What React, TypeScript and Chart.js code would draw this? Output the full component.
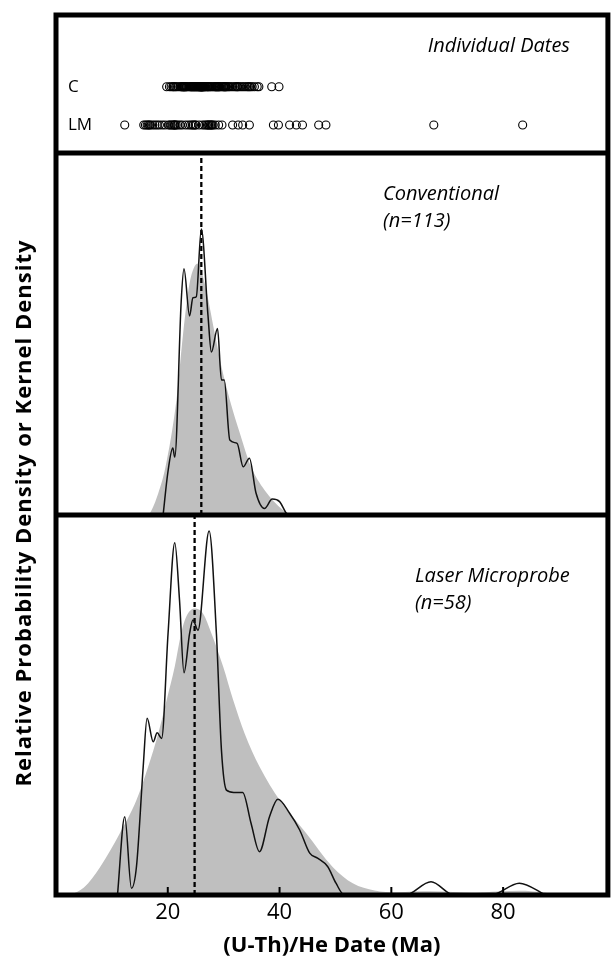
import React, { useEffect, useRef } from 'react';
import { Chart, registerables } from 'chart.js';

Chart.register(...registerables);

const FONT = "'Open Sans', sans-serif";

const X_MIN = 0;
const X_MAX = 98.75;
const X_TICKS = [20, 40, 60, 80];
const ROW_LABELS = ['LM', 'C'];

// Individual dates (Ma)
const C_DATES = [
  19.8, 20.3, 20.6, 20.9, 21.0, 21.2, 21.4, 21.6, 21.9, 22.2, 22.4, 22.5, 22.6, 22.7, 22.8, 22.9, 22.9,
  23.0, 23.1, 23.2, 23.3, 23.4, 23.6, 23.8, 24.0, 24.1, 24.2, 24.3, 24.4, 24.5, 24.6, 24.7, 24.8, 24.9,
  25.0, 25.1, 25.2, 25.3, 25.4, 25.5, 25.6, 25.6, 25.7, 25.8, 25.8, 25.9, 25.9, 26.0, 26.0, 26.0, 26.1,
  26.1, 26.2, 26.2, 26.3, 26.3, 26.4, 26.5, 26.6, 26.7, 26.8, 27.0, 27.1, 27.2, 27.3, 27.5, 27.6, 27.8,
  28.0, 28.2, 28.4, 28.5, 28.6, 28.7, 28.8, 28.9, 29.0, 29.1, 29.2, 29.3, 29.5, 29.7, 29.9, 30.0, 30.1,
  30.2, 30.3, 30.4, 30.5, 30.7, 30.9, 31.1, 31.4, 31.7, 32.0, 32.2, 32.4, 32.5, 32.7, 33.0, 33.3, 33.6,
  33.9, 34.2, 34.4, 34.6, 34.8, 35.1, 35.5, 36.0, 36.3, 38.6, 39.9,
];
const LM_DATES = [
  12.3,
  15.7, 16.0, 16.3, 16.5, 16.7, 16.9, 17.3, 17.7, 18.1, 18.5, 19.0,
  19.5, 20.1, 20.4, 20.6, 20.9, 21.1, 21.2, 21.3, 21.5, 21.8, 22.2, 22.6,
  23.2, 23.7, 24.1, 24.4, 24.6, 24.9, 25.0, 25.6,
  26.2, 26.6, 26.9, 27.1, 27.3, 27.4, 27.6, 27.8, 27.9, 28.1, 28.5, 29.1, 29.7,
  31.6, 32.6, 33.4, 34.6,
  38.9, 39.8,
  41.8, 43.0, 44.1,
  47.0, 48.3,
  67.6, 83.5,
];

// Conventional: kernel density (grey) and probability density (line)
const CONV_KDE_X = [16.2, 16.8, 18.3, 19.6, 21.55, 22.75, 23.9, 25.4, 26.6, 28.4, 29.6, 31.1, 32.9, 34.9, 37.3, 40.6, 42.4];
const CONV_KDE_Y = [0, 0.005, 0.06, 0.133, 0.318, 0.502, 0.64, 0.695, 0.64, 0.502, 0.41, 0.318, 0.226, 0.133, 0.069, 0.014, 0];
const CONV_PDP_X = [19.2, 20.0, 20.9, 21.25, 22.4, 22.9, 23.9, 24.5, 25.1, 26.0, 27.2, 27.8, 28.9, 29.6, 30.1, 31.1, 32.4, 33.5, 34.6, 35.8, 37.3, 38.7, 40.0, 41.2, 41.6];
const CONV_PDP_Y = [0.005, 0.116, 0.185, 0.16, 0.59, 0.68, 0.55, 0.6, 0.603, 0.79, 0.55, 0.45, 0.515, 0.373, 0.373, 0.207, 0.198, 0.133, 0.157, 0.06, 0.018, 0.044, 0.037, 0.005, 0];
const CONV_MEDIAN = 26.0;

// Laser microprobe
const LM_KDE_X = [2.5, 5.0, 7.9, 11.4, 14.4, 16.5, 18.3, 19.8, 21.25, 22.4, 23.3, 24.8, 26.3, 27.8, 29.9, 31.7, 33.75, 36.4, 40.0, 44.8, 49.5, 53.1, 57.0, 61, 64, 67, 71, 75, 79, 83, 87, 90];
const LM_KDE_Y = [0, 0.02, 0.074, 0.162, 0.25, 0.338, 0.425, 0.513, 0.601, 0.689, 0.732, 0.754, 0.741, 0.689, 0.601, 0.513, 0.425, 0.338, 0.25, 0.162, 0.074, 0.031, 0.012, 0.007, 0.009, 0.01, 0.008, 0.006, 0.009, 0.011, 0.007, 0];
const LM_PDP_X = [11.0, 12.3, 13.5, 14.4, 15.6, 16.3, 17.4, 18.1, 18.9, 20.05, 21.25, 22.1, 22.9, 23.9, 24.5, 25.4, 27.4, 28.7, 29.6, 30.5, 31.8, 33.4, 34.9, 36.4, 38.2, 39.7, 41.8, 43.6, 45.4, 46.8, 48.6, 50.1, 51.6, 62.5, 67.1, 71.2, 77.8, 82.9, 87.6];
const LM_PDP_Y = [0, 0.206, 0.018, 0.075, 0.337, 0.465, 0.403, 0.427, 0.412, 0.688, 0.927, 0.776, 0.585, 0.688, 0.724, 0.697, 0.958, 0.688, 0.382, 0.276, 0.27, 0.27, 0.189, 0.114, 0.206, 0.252, 0.215, 0.171, 0.11, 0.097, 0.075, 0.031, 0, 0, 0.035, 0, 0, 0.031, 0];
const LM_MEDIAN = 24.8;

const pts = (xs: number[], ys: number[]) => xs.map((x, i) => ({ x, y: ys[i] }));
const row = (dates: number[], label: string) => dates.map((x) => ({ x, y: ROW_LABELS.indexOf(label) }));
const vline = (m: number) => [{ x: m, y: 0 }, { x: m, y: 1 }];

const framePlugin = {
  id: 'frame',
  afterDatasetsDraw(chart: any) {
    const { ctx, chartArea: a, scales } = chart;
    ctx.save();
    ctx.strokeStyle = '#000';
    ctx.lineWidth = 5;
    ctx.strokeRect(a.left, a.top, a.right - a.left, a.bottom - a.top);
    for (const id of ['yDots', 'yConv']) {
      const s = scales[id];
      ctx.beginPath();
      ctx.moveTo(a.left, s.bottom);
      ctx.lineTo(a.right, s.bottom);
      ctx.stroke();
    }
    const x = scales.x;
    ctx.lineWidth = 2;
    for (const t of x.ticks) {
      const px = x.getPixelForValue(t.value);
      ctx.beginPath();
      ctx.moveTo(px, a.bottom);
      ctx.lineTo(px, a.bottom - 8);
      ctx.stroke();
    }
    ctx.restore();
  },
};

const zeroWidth = (s: any) => {
  s.width = 0;
  s.paddingTop = 0;
  s.paddingBottom = 0;
};

export default function App() {
  const ref = useRef<HTMLCanvasElement>(null);

  useEffect(() => {
    if (!ref.current) return;
    const lineBase = { pointRadius: 0, fill: false, cubicInterpolationMode: 'monotone' as const };
    const dotBase = {
      showLine: false,
      pointRadius: 4,
      pointBorderWidth: 1.1,
      borderColor: '#000',
      backgroundColor: 'rgba(0,0,0,0)',
      pointBackgroundColor: 'rgba(0,0,0,0)',
      pointBorderColor: '#000',
      yAxisID: 'yDots',
    };
    const chart = new Chart(ref.current, {
      type: 'line',
      data: {
        datasets: [
          { ...dotBase, label: 'C', data: row(C_DATES, 'C') },
          { ...dotBase, label: 'LM', data: row(LM_DATES, 'LM') },
          { ...lineBase, label: 'Conv PDP', data: pts(CONV_PDP_X, CONV_PDP_Y), borderColor: '#111', borderWidth: 1.5, yAxisID: 'yConv' },
          { ...lineBase, label: 'LM PDP', data: pts(LM_PDP_X, LM_PDP_Y), borderColor: '#111', borderWidth: 1.5, yAxisID: 'yLM' },
          { pointRadius: 0, fill: false, label: 'Conv median', data: vline(CONV_MEDIAN), borderColor: '#000', borderWidth: 2.3, borderDash: [5, 3], yAxisID: 'yConv' },
          { pointRadius: 0, fill: false, label: 'LM median', data: vline(LM_MEDIAN), borderColor: '#000', borderWidth: 2.3, borderDash: [5, 3], yAxisID: 'yLM' },
          { ...lineBase, label: 'Conv KDE', data: pts(CONV_KDE_X, CONV_KDE_Y), fill: 'origin', backgroundColor: '#bfbfbf', borderColor: '#bfbfbf', borderWidth: 0, yAxisID: 'yConv' },
          { ...lineBase, label: 'LM KDE', data: pts(LM_KDE_X, LM_KDE_Y), fill: 'origin', backgroundColor: '#bfbfbf', borderColor: '#bfbfbf', borderWidth: 0, yAxisID: 'yLM' },
        ],
      },
      options: {
        animation: false,
        responsive: false,
        devicePixelRatio: 1,
        events: [],
        layout: { padding: { left: 56, right: 4, top: 15, bottom: 0 } },
        plugins: { legend: { display: false }, tooltip: { enabled: false } },
        scales: {
          x: {
            type: 'linear',
            position: 'bottom',
            min: X_MIN,
            max: X_MAX,
            grid: { display: false, drawTicks: false },
            border: { display: false },
            afterBuildTicks: (s: any) => {
              s.ticks = X_TICKS.map((v) => ({ value: v }));
            },
            ticks: { color: '#000', font: { family: FONT, size: 22 }, padding: 5, maxRotation: 0, autoSkip: false },
            title: {
              display: true,
              text: '(U-Th)/He Date (Ma)',
              color: '#000',
              font: { family: FONT, size: 22, weight: 'bold' },
              padding: 0,
            },
            afterFit: (s: any) => {
              s.height = 64;
              s.paddingLeft = 0;
              s.paddingRight = 0;
            },
          },
          yLM: { type: 'linear', position: 'left', stack: 'panels', stackWeight: 380, weight: 1, min: 0, max: 1, display: false, afterFit: zeroWidth },
          yConv: { type: 'linear', position: 'left', stack: 'panels', stackWeight: 362, weight: 2, min: 0, max: 1, display: false, afterFit: zeroWidth },
          yDots: {
            type: 'linear',
            position: 'left',
            stack: 'panels',
            stackWeight: 138,
            weight: 3,
            min: -0.73,
            max: 2.87,
            grid: { display: false, drawTicks: false },
            border: { display: false },
            afterFit: zeroWidth,
            afterBuildTicks: (s: any) => {
              s.ticks = ROW_LABELS.map((_, i) => ({ value: i }));
            },
            ticks: {
              mirror: true,
              padding: 12,
              color: '#000',
              font: { family: FONT, size: 17 },
              callback: (v: any) => ROW_LABELS[v],
            },
          },
        },
      } as any,
      plugins: [framePlugin],
    });
    return () => chart.destroy();
  }, []);

  const t = (style: React.CSSProperties): React.CSSProperties => ({
    position: 'absolute',
    fontFamily: FONT,
    color: '#000',
    whiteSpace: 'nowrap',
    lineHeight: '24px',
    fontSize: 20,
    fontStyle: 'italic',
    ...style,
  });

  return (
    <div style={{ position: 'absolute', left: 0, top: 0, width: 613, height: 959, background: '#fff', overflow: 'hidden' }}>
      <canvas ref={ref} width={613} height={959} style={{ position: 'absolute', left: 0, top: 0 }} />
      <div style={t({ right: 43, top: 33 })}>Individual Dates</div>
      <div style={t({ left: 383, top: 181 })}>Conventional</div>
      <div style={t({ left: 383, top: 208 })}>(n=113)</div>
      <div style={t({ left: 415, top: 563 })}>Laser Microprobe</div>
      <div style={t({ left: 415, top: 590 })}>(n=58)</div>
      <div
        style={{
          position: 'absolute',
          left: 22 - 300,
          top: 513 - 13,
          width: 600,
          height: 26,
          lineHeight: '26px',
          textAlign: 'center',
          transform: 'rotate(-90deg)',
          fontFamily: FONT,
          fontWeight: 'bold',
          fontSize: 22,
          letterSpacing: '1px',
          color: '#000',
          whiteSpace: 'nowrap',
        }}
      >
        Relative Probability Density or Kernel Density
      </div>
    </div>
  );
}
